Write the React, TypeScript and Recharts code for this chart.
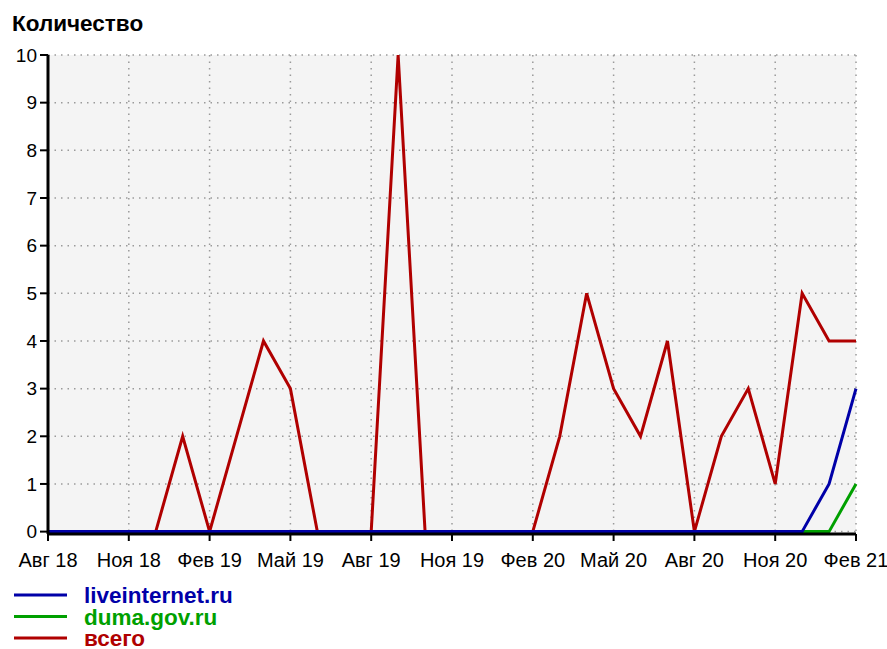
import React from 'react';
import { LineChart, Line, XAxis, YAxis, CartesianGrid } from 'recharts';

const months = [
  'Авг 18','Сен 18','Окт 18','Ноя 18','Дек 18',
  'Янв 19','Фев 19','Мар 19','Апр 19','Май 19','Июн 19','Июл 19','Авг 19','Сен 19','Окт 19','Ноя 19','Дек 19',
  'Янв 20','Фев 20','Мар 20','Апр 20','Май 20','Июн 20','Июл 20','Авг 20','Сен 20','Окт 20','Ноя 20','Дек 20',
  'Янв 21','Фев 21',
];
const liveinternet = [0,0,0,0,0, 0,0,0,0,0,0,0,0,0,0,0,0, 0,0,0,0,0,0,0,0,0,0,0,0, 1,3];
const duma = [0,0,0,0,0, 0,0,0,0,0,0,0,0,0,0,0,0, 0,0,0,0,0,0,0,0,0,0,0,0, 0,1];
const total = [0,0,0,0,0, 2,0,2,4,3,0,0,0,10,0,0,0, 0,0,2,5,3,2,4,0,2,3,1,5, 4,4];
const xTickIdx = [0,3,6,9,12,15,18,21,24,27,30];
const xTickLabels = ['Авг 18','Ноя 18','Фев 19','Май 19','Авг 19','Ноя 19','Фев 20','Май 20','Авг 20','Ноя 20','Фев 21'];
const yTicks = [0,1,2,3,4,5,6,7,8,9,10];

const series = [
  { key: 'total', name: 'всего', color: '#b00000' },
  { key: 'duma', name: 'duma.gov.ru', color: '#00a000' },
  { key: 'live', name: 'liveinternet.ru', color: '#0000a8' },
];
const legendOrder = ['live', 'duma', 'total'];

const data = months.map((m, i) => ({
  idx: i,
  month: m,
  live: liveinternet[i],
  duma: duma[i],
  total: total[i],
}));

const FONT = '"Liberation Sans", Arial, sans-serif';

export default function App() {
  return (
    <div style={{ position: 'absolute', left: 0, top: 0, width: 887, height: 649, background: '#fff', overflow: 'hidden' }}>
      <div style={{ position: 'absolute', left: 0, top: 0 }}>
        <LineChart width={887} height={600} data={data} margin={{ top: 55, right: 31, left: 0, bottom: 26 }}>
          <CartesianGrid stroke="#9a9a9a" strokeWidth={1.5} strokeDasharray="1.5 5" fill="#f4f4f4" />
          <XAxis
            dataKey="idx"
            type="number"
            domain={[0, 30]}
            ticks={xTickIdx}
            tickFormatter={(v: number) => xTickLabels[xTickIdx.indexOf(v)] ?? ''}
            height={40}
            axisLine={{ stroke: '#000', strokeWidth: 3 }}
            tickLine={{ stroke: '#000', strokeWidth: 2 }}
            tickSize={7}
            tickMargin={12}
            tick={{ fill: '#000', fontSize: 20, fontFamily: FONT }}
            interval={0}
          />
          <YAxis
            type="number"
            domain={[-0.05, 10]}
            ticks={yTicks}
            width={48}
            axisLine={{ stroke: '#000', strokeWidth: 3 }}
            tickLine={{ stroke: '#000', strokeWidth: 2 }}
            tickSize={8}
            tickMargin={3}
            tick={{ fill: '#000', fontSize: 19, fontFamily: FONT }}
            interval={0}
            allowDataOverflow
          />
          {series.map((s) => (
            <Line
              key={s.key}
              type="linear"
              dataKey={s.key}
              name={s.name}
              stroke={s.color}
              strokeWidth={3}
              dot={false}
              activeDot={false}
              isAnimationActive={false}
            />
          ))}
        </LineChart>
      </div>
      <svg width={887} height={649} style={{ position: 'absolute', left: 0, top: 0, pointerEvents: 'none' }}>
        <text x={12} y={31} fontFamily={FONT} fontWeight="bold" fontSize={22.5} fill="#000">Количество</text>
        {legendOrder.map((k, i) => {
          const s = series.find((x) => x.key === k)!;
          const y = 595 + i * 21.5;
          return (
            <g key={k}>
              <line x1={14} x2={67} y1={y} y2={y} stroke={s.color} strokeWidth={3} />
              <text x={84} y={y + 8} fontFamily={FONT} fontWeight="bold" fontSize={22.5} fill={s.color}>{s.name}</text>
            </g>
          );
        })}
      </svg>
    </div>
  );
}
